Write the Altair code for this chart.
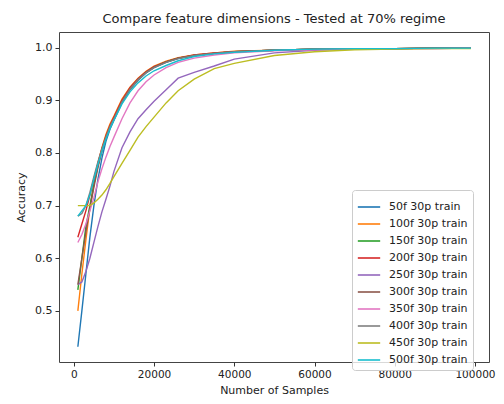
import altair as alt
import pandas as pd

samples = [1000, 2000, 3000, 4000, 5000, 6000, 7000, 8000, 9000, 10000, 12000, 14000,
           16000, 18000, 20000, 23000, 26000, 30000, 35000, 40000, 50000, 60000, 70000,
           80000, 90000, 99000]

acc_50f = [0.432, 0.50, 0.57, 0.64, 0.70, 0.75, 0.79, 0.822, 0.845, 0.862, 0.895, 0.92,
           0.938, 0.952, 0.962, 0.972, 0.979, 0.985, 0.989, 0.992, 0.995, 0.997, 0.998,
           0.998, 0.999, 0.999]
acc_100f = [0.50, 0.57, 0.635, 0.695, 0.74, 0.78, 0.81, 0.835, 0.855, 0.87, 0.902, 0.925,
            0.942, 0.955, 0.965, 0.974, 0.981, 0.986, 0.99, 0.993, 0.995, 0.997, 0.998,
            0.998, 0.999, 0.999]
acc_150f = [0.54, 0.60, 0.66, 0.70, 0.74, 0.775, 0.805, 0.83, 0.85, 0.865, 0.898, 0.922,
            0.94, 0.953, 0.963, 0.973, 0.98, 0.985, 0.989, 0.992, 0.995, 0.997, 0.998,
            0.998, 0.999, 0.999]
acc_200f = [0.64, 0.665, 0.69, 0.72, 0.75, 0.78, 0.808, 0.832, 0.852, 0.868, 0.9, 0.924,
            0.941, 0.954, 0.964, 0.973, 0.98, 0.986, 0.99, 0.992, 0.995, 0.997, 0.998,
            0.998, 0.999, 0.999]
acc_250f = [0.55, 0.555, 0.575, 0.60, 0.63, 0.66, 0.688, 0.712, 0.737, 0.765, 0.81, 0.84,
            0.865, 0.882, 0.898, 0.92, 0.942, 0.953, 0.965, 0.978, 0.99, 0.995, 0.997,
            0.998, 0.998, 0.999]
acc_300f = [0.55, 0.60, 0.65, 0.695, 0.735, 0.772, 0.803, 0.828, 0.848, 0.864, 0.897, 0.921,
            0.939, 0.953, 0.963, 0.973, 0.98, 0.985, 0.989, 0.992, 0.995, 0.997, 0.998,
            0.998, 0.999, 0.999]
acc_350f = [0.63, 0.645, 0.665, 0.69, 0.715, 0.745, 0.77, 0.792, 0.812, 0.83, 0.865, 0.895,
            0.918, 0.935, 0.948, 0.962, 0.972, 0.98, 0.986, 0.99, 0.994, 0.996, 0.997,
            0.998, 0.998, 0.999]
acc_400f = [0.68, 0.685, 0.70, 0.725, 0.755, 0.783, 0.808, 0.83, 0.85, 0.865, 0.897, 0.921,
            0.939, 0.952, 0.962, 0.972, 0.979, 0.985, 0.989, 0.992, 0.995, 0.997, 0.998,
            0.998, 0.999, 0.999]
acc_450f = [0.70, 0.70, 0.70, 0.70, 0.705, 0.712, 0.72, 0.73, 0.742, 0.755, 0.78, 0.805,
            0.83, 0.85, 0.868, 0.895, 0.918, 0.94, 0.96, 0.97, 0.985, 0.992, 0.996,
            0.997, 0.998, 0.998]
acc_500f = [0.68, 0.69, 0.70, 0.72, 0.75, 0.778, 0.803, 0.826, 0.846, 0.862, 0.893, 0.916,
            0.933, 0.946, 0.956, 0.966, 0.975, 0.983, 0.988, 0.991, 0.995, 0.997, 0.998,
            0.998, 0.999, 0.999]

series_names = ["50f 30p train", "100f 30p train", "150f 30p train", "200f 30p train",
                "250f 30p train", "300f 30p train", "350f 30p train", "400f 30p train",
                "450f 30p train", "500f 30p train"]
series_values = [acc_50f, acc_100f, acc_150f, acc_200f, acc_250f, acc_300f, acc_350f,
                 acc_400f, acc_450f, acc_500f]
colors = ["#1f77b4", "#ff7f0e", "#2ca02c", "#d62728", "#9467bd", "#8c564b", "#e377c2",
          "#7f7f7f", "#bcbd22", "#17becf"]

rows = []
for i, (name, vals) in enumerate(zip(series_names, series_values)):
    for x, y in zip(samples, vals):
        rows.append({"samples": x, "accuracy": y, "series": name, "order": i})
df = pd.DataFrame(rows)

font = "DejaVu Sans"

chart = alt.Chart(df).mark_line(strokeWidth=1.4, clip=True).encode(
    x=alt.X("samples:Q", title="Number of Samples",
            scale=alt.Scale(domain=[-3700, 103500], nice=False, zero=False),
            axis=alt.Axis(values=[0, 20000, 40000, 60000, 80000, 100000], format="d",
                          grid=False, domain=False, tickSize=4, labelPadding=3,
                          labelFontSize=10.5, titlePadding=5)),
    y=alt.Y("accuracy:Q", title="Accuracy",
            scale=alt.Scale(domain=[0.403, 1.0296], nice=False, zero=False),
            axis=alt.Axis(values=[0.5, 0.6, 0.7, 0.8, 0.9, 1.0], format=".1f",
                          grid=False, domain=False, tickSize=4, labelPadding=3,
                          titlePadding=8)),
    color=alt.Color("series:N", sort=series_names,
                    scale=alt.Scale(domain=series_names, range=colors),
                    legend=alt.Legend(title=None, orient="none", legendX=293, legendY=158,
                                      symbolType="stroke", symbolSize=500,
                                      symbolStrokeWidth=1.6, labelFontSize=11,
                                      labelFont=font, rowPadding=-7.5,
                                      labelOffset=8,
                                      fillColor="rgba(255,255,255,0.8)",
                                      strokeColor="#cccccc", cornerRadius=3,
                                      padding=5, labelColor="#222")),
    detail="series:N",
    order="order:Q",
).properties(
    width=430, height=330,
    title=alt.Title("Compare feature dimensions - Tested at 70% regime",
                    fontSize=13, font=font, fontWeight="normal", color="#222", offset=6),
    autosize="none",
    padding={"left": 51, "top": 24, "right": 7, "bottom": 34},
).configure_view(
    stroke="#444", strokeWidth=1
).configure_axis(
    labelFont=font, titleFont=font, labelFontSize=11, titleFontSize=11,
    titleFontWeight="normal", labelColor="#222", titleColor="#222",
    tickColor="#333"
)

chart.save("out.html", embed_options={"renderer": "svg", "actions": False})
